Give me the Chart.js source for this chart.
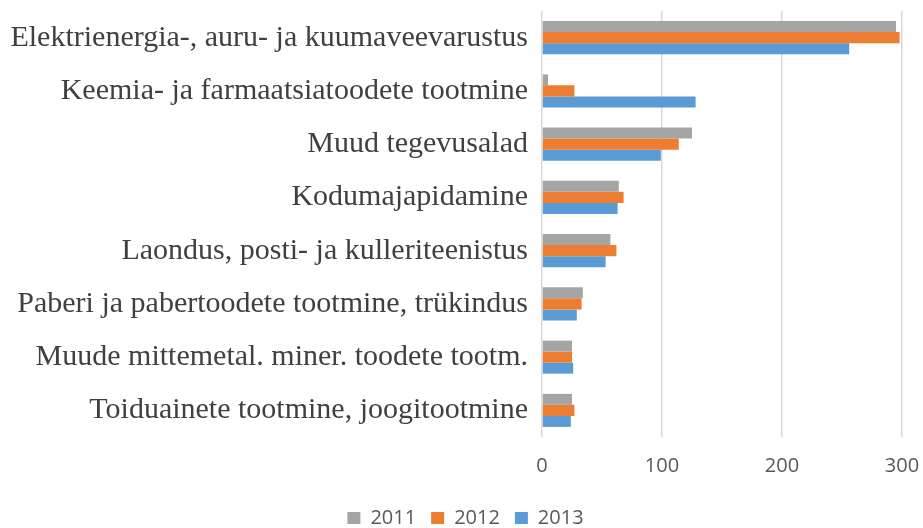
<!DOCTYPE html>
<html>
<head>
<meta charset="utf-8">
<script src="https://cdn.jsdelivr.net/npm/chart.js@4/dist/chart.umd.min.js"></script>
<style>
  body { margin: 0; background: #fff; }
  #wrap { width: 923px; height: 528px; }
</style>
</head>
<body>
<div id="wrap"><canvas id="chart"></canvas></div>
<script>
const categories = [
    'Elektrienergia-, auru- ja kuumaveevarustus',
    'Keemia- ja farmaatsiatoodete tootmine',
    'Muud tegevusalad',
    'Kodumajapidamine',
    'Laondus, posti- ja kulleriteenistus',
    'Paberi ja pabertoodete tootmine, trükindus',
    'Muude mittemetal. miner. toodete tootm.',
    'Toiduainete tootmine, joogitootmine'
];
const values2011 = [295, 5, 125, 64, 57, 34, 25, 25];
const values2012 = [298, 27, 114, 68, 62, 33, 25, 27];
const values2013 = [256, 128, 99, 63, 53, 29, 26, 24];
const xTicks = [0, 100, 200, 300];

const ctx = document.getElementById('chart');

new Chart(ctx, {
    type: 'bar',
    data: {
        labels: categories,
        datasets: [
            { label: '2011', data: values2011, backgroundColor: '#a5a5a5' },
            { label: '2012', data: values2012, backgroundColor: '#ed7d31' },
            { label: '2013', data: values2013, backgroundColor: '#5b9bd5' }
        ]
    },
    options: {
        indexAxis: 'y',
        responsive: true,
        maintainAspectRatio: false,
        animation: false,
        layout: {
            padding: { top: 11, right: 0, left: 8, bottom: -10 }
        },
        datasets: {
            bar: {
                categoryPercentage: 0.62,
                barPercentage: 1.0
            }
        },
        scales: {
            x: {
                min: 0,
                max: 300,
                afterBuildTicks: function (scale) {
                    scale.ticks = xTicks.map(v => ({ value: v }));
                },
                afterFit: function (scale) {
                    scale.height = 56;
                    scale.paddingLeft = 0;
                    scale.paddingRight = 21;
                },
                grid: {
                    color: '#d9d9d9',
                    lineWidth: 1.5,
                    drawTicks: false
                },
                border: { display: false },
                ticks: {
                    padding: 17,
                    color: '#595959',
                    font: { family: 'Open Sans', size: 20 }
                }
            },
            y: {
                afterFit: function (scale) {
                    scale.width = 534;
                    scale.paddingTop = 0;
                    scale.paddingBottom = 0;
                },
                grid: { display: false, drawTicks: false },
                border: { display: false },
                ticks: {
                    padding: 14,
                    color: '#404040',
                    font: { family: 'Liberation Serif', size: 30 }
                }
            }
        },
        plugins: {
            legend: {
                position: 'bottom',
                labels: {
                    boxWidth: 13,
                    boxHeight: 12,
                    padding: 15,
                    color: '#595959',
                    font: { family: 'Open Sans', size: 20 }
                }
            },
            tooltip: { enabled: false }
        }
    }
});
</script>
</body>
</html>
